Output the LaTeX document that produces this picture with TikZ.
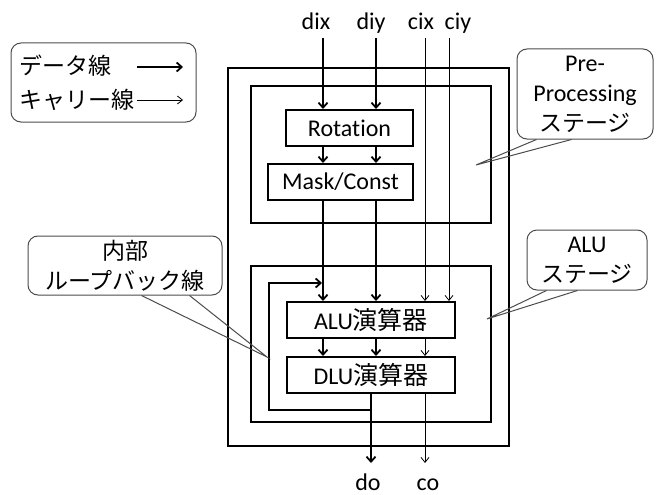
\documentclass[tikz,border=0pt]{standalone}
\usepackage{fontspec}
\setmainfont{Carlito}[Ligatures=NoCommon]
\newfontfamily\jp{Noto Sans CJK JP}
\newcommand\jps{\jp\fontsize{23}{30}\selectfont}
\newcommand\jpb{\jp\fontsize{25}{30}\selectfont}
\usetikzlibrary{arrows.meta,calc}
\begin{document}
\begin{tikzpicture}[x=1pt,y=-1pt,
  lat/.style={font=\fontsize{24}{30}\selectfont},
  frame/.style={draw, line width=2.2pt, inner sep=0pt},
  unit/.style={draw, line width=2pt, inner sep=0pt, fill=white, lat},
  data/.style={line width=1.8pt, -{Straight Barb[length=5pt,width=9pt]}},
  carry/.style={line width=0.8pt, -{Straight Barb[length=5pt,width=8pt]}},
  note/.style={draw=black!70, line width=1pt, rounded corners=10pt, inner sep=0pt, align=center},
  tail/.style={draw=black!70, line width=1pt},
]
\useasboundingbox (0,0) rectangle (661,495);
% frames
\node[frame, minimum width=281pt, minimum height=378pt] (outer) at (368.5,257) {};
\node[frame, minimum width=240pt, minimum height=137pt] (pre) at (371,154.5) {};
\node[frame, minimum width=240pt, minimum height=156pt] (alustage) at (371,344) {};
% units
\node[unit, minimum width=127pt, minimum height=36pt] (rot) at (349.5,128) {Rotation};
\node[unit, minimum width=145pt, minimum height=36pt] (mask) at (340.5,182) {Mask/Const};
\node[unit, minimum width=168pt, minimum height=36pt] (alu) at (371,320) {ALU{\jpb 演算器}};
\node[unit, minimum width=168pt, minimum height=36pt] (dlu) at (371,375) {DLU{\jpb 演算器}};
% inputs / outputs
\coordinate (dix) at (323,38);
\coordinate (diy) at (376,38);
\coordinate (cix) at (425,38);
\coordinate (ciy) at (449,38);
\coordinate (do) at (371,463);
\coordinate (co) at (425,463);
\node[lat, anchor=base] (ldix) at (316,30) {dix};
\node[lat, anchor=base] (ldiy) at (371,30) {diy};
\node[lat, anchor=base] (lcix) at (421,30) {cix};
\node[lat, anchor=base] (lciy) at (458,30) {ciy};
\node[lat, anchor=base, inner sep=0pt] (ldo) at (368,490) {do};
\node[lat, anchor=base, inner sep=0pt] (lco) at (428,490) {co};
% data paths
\draw[data] (dix) -- (dix |- rot.north);
\draw[data] (diy) -- (diy |- rot.north);
\draw[data] (dix |- rot.south) -- (dix |- mask.north);
\draw[data] (diy |- rot.south) -- (diy |- mask.north);
\draw[data] (dix |- mask.south) -- (dix |- alu.north);
\draw[data] (diy |- mask.south) -- (diy |- alu.north);
\draw[carry] (cix) -- (cix |- alu.north);
\draw[carry] (ciy) -- (ciy |- alu.north);
\draw[data] (dix |- alu.south) -- (dix |- dlu.north);
\draw[data] (diy |- alu.south) -- (diy |- dlu.north);
\draw[carry] (cix |- alu.south) -- (cix |- dlu.north);
\draw[data] (do |- dlu.south) -- (do);
\draw[carry] (co |- dlu.south) -- (co);
% loopback
\coordinate (lpa) at (371,410);
\coordinate (lpb) at (269,283);
\draw[data, shorten >=1pt] (lpa) -| (lpb) -- (dix |- lpb);
% legend
\node[note, minimum width=185pt, minimum height=79pt] (legend) at (103.5,82.5) {};
\node[inner sep=0pt, anchor=west, font=\jps] (ldata) at (19,66) {データ線};
\node[inner sep=0pt, anchor=west, font=\jps] (lcarry) at (19,100) {キャリー線};
\coordinate (la1) at (137,67);
\coordinate (la2) at (183,67);
\coordinate (lb1) at (137,100);
\coordinate (lb2) at (183,100);
\draw[data] (la1) -- (la2);
\draw[carry] (lb1) -- (lb2);
% callouts
\node[note, lat, minimum width=136pt, minimum height=90pt] (cpre) at (585,94) {Pre-\\Processing\\{\jps ステージ}};
\coordinate (tpre) at (476,165);
\draw[tail] ($(cpre.south west)+(20,0)$) -- (tpre) -- ($(cpre.south west)+(55,0)$);
\node[note, lat, minimum width=120pt, minimum height=60pt] (calu) at (587,260) {ALU\\{\jps ステージ}};
\coordinate (talu) at (487,319);
\draw[tail] ($(calu.south west)+(20,0)$) -- (talu) -- ($(calu.south west)+(51,0)$);
\node[note, minimum width=194pt, minimum height=59pt, font=\jps] (cloop) at (125,265.5) {内部\\ループバック線};
\coordinate (tloop) at (267,357);
\draw[tail] ($(cloop.south west)+(114,0)$) -- (tloop) -- ($(cloop.south west)+(162,0)$);
\end{tikzpicture}
\end{document}
